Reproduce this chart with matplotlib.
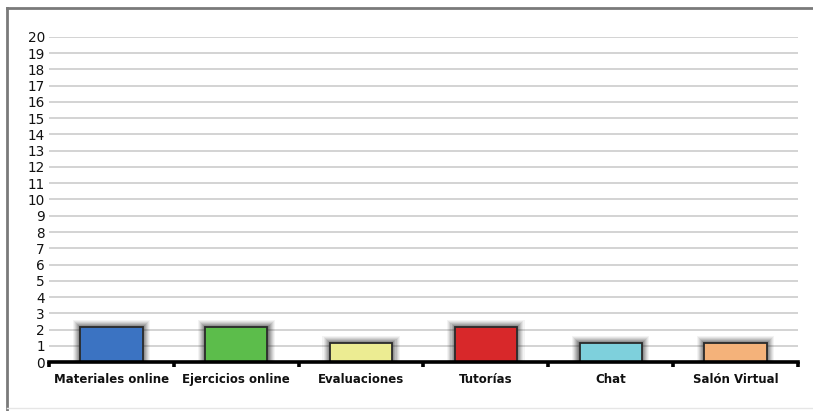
import matplotlib
matplotlib.use("Agg")
import matplotlib.pyplot as plt
from matplotlib.patches import Rectangle
from matplotlib.lines import Line2D

categories = ["Materiales online", "Ejercicios online", "Evaluaciones",
              "Tutorías", "Chat", "Salón Virtual"]
values = [2.15, 2.15, 1.15, 2.15, 1.15, 1.15]
colors = ["#3b73c2", "#5cbd4b", "#ecec92", "#d8282a", "#7ed0dc", "#f4b27a"]
y_ticks = list(range(0, 21))

fig = plt.figure(figsize=(8.13, 4.11), dpi=100)
ax = fig.add_axes([0.0603, 0.1192, 0.9212, 0.7908])

bar_w = 0.5
# soft shadow behind each bar
for i, v in enumerate(values):
    for k, a in zip(range(7, 0, -1), [0.05, 0.07, 0.09, 0.11, 0.13, 0.15, 0.18]):
        dx = k * 0.0085
        dy = k * 0.065
        ax.add_patch(Rectangle((i - bar_w / 2 - dx, 0), bar_w + 2 * dx, v + dy,
                               facecolor="#202020", edgecolor="none",
                               alpha=a, zorder=2))

ax.bar(range(len(categories)), values, width=bar_w, color=colors,
       edgecolor="#2a2a2a", linewidth=1.3, zorder=3)

ax.set_xlim(-0.5, len(categories) - 0.5)
ax.set_ylim(0, 20)
ax.set_yticks(y_ticks)
ax.set_yticklabels([str(t) for t in y_ticks], fontsize=9.8, color="#111111")
ax.tick_params(axis="y", length=0, pad=3)
ax.yaxis.grid(True, color="#c8c8c8", linewidth=1.1, zorder=0)
ax.set_axisbelow(True)

ax.set_xticks(range(len(categories)))
ax.set_xticklabels(categories, fontsize=8.5, fontweight="bold", color="#111111")
ax.tick_params(axis="x", length=0, pad=8)

for s in ["top", "right", "left"]:
    ax.spines[s].set_visible(False)
ax.spines["bottom"].set_linewidth(2.6)
ax.spines["bottom"].set_color("#000000")
ax.spines["bottom"].set_zorder(5)

# boundary tick marks between categories
for b in [i - 0.5 for i in range(len(categories) + 1)]:
    ax.plot([b, b], [0, -0.33], color="#000000", linewidth=2.6,
            clip_on=False, zorder=5, solid_capstyle="butt")

# outer frame
fig.add_artist(Line2D([7 / 813, 1.0], [1 - 8 / 411, 1 - 8 / 411],
                      transform=fig.transFigure, color="#7a7a7a", linewidth=2))
fig.add_artist(Line2D([7 / 813, 7 / 813], [0, 1 - 8 / 411],
                      transform=fig.transFigure, color="#7a7a7a", linewidth=2))
fig.add_artist(Line2D([7 / 813, 1.0], [3 / 411, 3 / 411],
                      transform=fig.transFigure, color="#e6e6e6", linewidth=1))

fig.savefig("out.png", dpi=100)
